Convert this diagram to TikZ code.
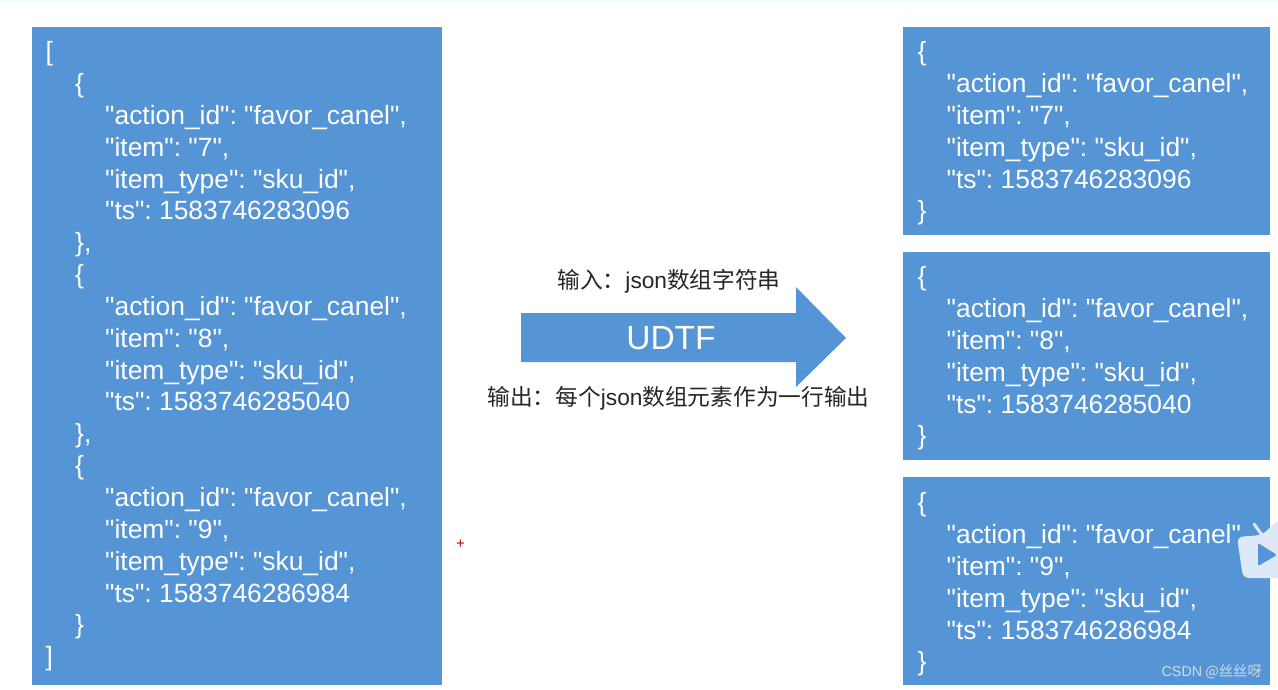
\documentclass[tikz,border=0pt]{standalone}
\usepackage{fontspec}
\newfontfamily\jsonfont{Liberation Sans}
\newfontfamily\cjk{Noto Sans CJK SC}
\definecolor{panelblue}{HTML}{5595D6}
\definecolor{topstrip}{HTML}{EFFBFC}
\definecolor{iconwhite}{HTML}{DDE9F7}
\newcommand{\ind}[1]{\hspace*{#1pt}}
\newcommand{\rec}[3]{\ind{#3}"action\_id": "favor\_canel",\\\ind{#3}"item": "#1",\\\ind{#3}"item\_type": "sku\_id",\\\ind{#3}"ts": #2}
\frenchspacing
\tikzset{
  panel/.style={fill=panelblue,draw=none},
  json/.style={text=white,align=left,anchor=north west,inner sep=0pt,font=\jsonfont\fontsize{26.4}{31.85}\selectfont},
  caption/.style={text=black!85,inner sep=0pt,font=\fontsize{22.7}{26}\selectfont\cjk}
}
\begin{document}
\begin{tikzpicture}[x=1pt,y=-1pt]
\useasboundingbox (0,0) rectangle (1278,689);
\fill[topstrip] (0,0) rectangle (1278,2);
\fill[panel] (31.5,27) rectangle (441.5,685);
\fill[panel] (903,27) rectangle (1270,235);
\fill[panel] (903,252) rectangle (1270,460);
\fill[panel] (903,477) rectangle (1270,685);
\node[json] (left) at (45.5,41.3) {[\\\ind{29.5}\{\\\rec{7}{1583746283096}{59.5}\\\ind{29.5}\},\\\ind{29.5}\{\\\rec{8}{1583746285040}{59.5}\\\ind{29.5}\},\\\ind{29.5}\{\\\rec{9}{1583746286984}{59.5}\\\ind{29.5}\}\\{]}};
\node[json] (r1) at (917.5,41.3) {\{\\\rec{7}{1583746283096}{29}\\\}};
\node[json] (r2) at (917.5,266.3) {\{\\\rec{8}{1583746285040}{29}\\\}};
\node[json] (r3) at (917.5,492.3) {\{\\\rec{9}{1583746286984}{29}\\\}};
\fill[panel] (521,313) -- (796,313) -- (796,287) -- (846,338) -- (796,387) -- (796,362) -- (521,362) -- cycle;
\node[text=white,inner sep=0pt,font=\jsonfont\fontsize{33.5}{40}\selectfont] (udtf) at (671,338) {UDTF};
\node[caption] (input) at (669,281) {输入：{\jsonfont json}数组字符串};
\node[caption] (output) at (678.5,398) {输出：每个{\jsonfont json}数组元素作为一行输出};
\node[text=red!75!black,inner sep=0pt,font=\jsonfont\fontsize{15}{15}\selectfont] (plus) at (460.5,544) {+};
\fill[iconwhite,rounded corners=6pt] (1237,537) -- (1262,535) -- (1278,520) -- (1290,520) -- (1290,578) -- (1243,578) -- cycle;
\draw[iconwhite,line width=3pt,line cap=round] (1254,524) -- (1262,535);
\fill[panelblue,rounded corners=2pt] (1258,543) -- (1258,566) -- (1277,555) -- cycle;
\node[text=white!85!black,inner sep=0pt,anchor=east,font=\fontsize{14.3}{16}\selectfont\cjk] (mark) at (1262,671.5) {{\jsonfont CSDN} @丝丝呀};
\end{tikzpicture}
\end{document}
